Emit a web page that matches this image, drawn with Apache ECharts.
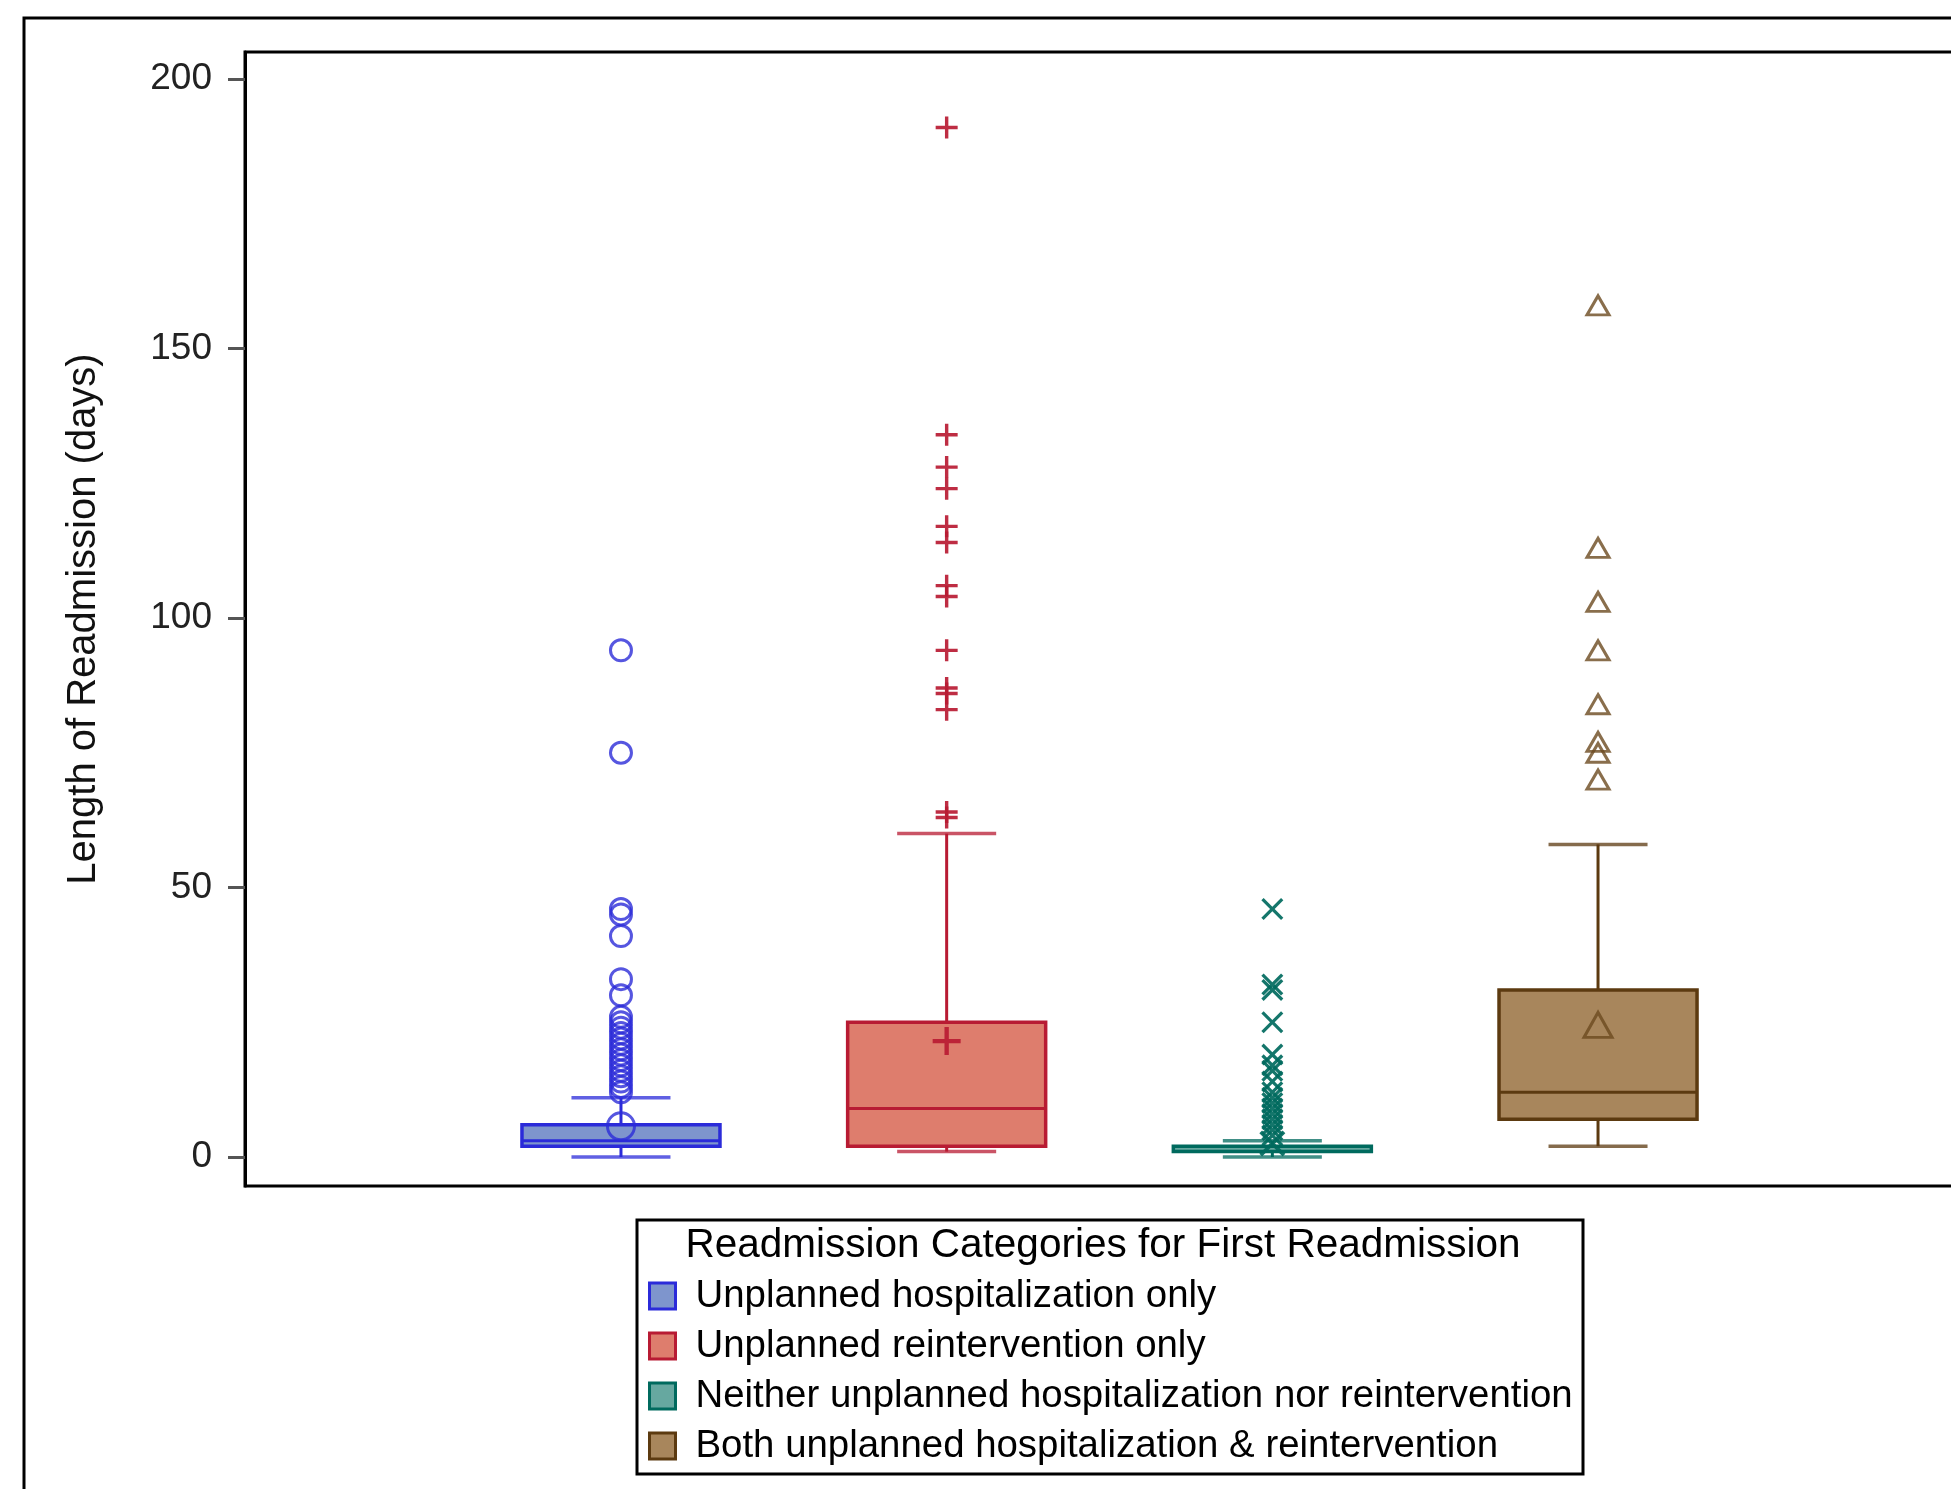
<!DOCTYPE html>
<html>
<head>
<meta charset="utf-8">
<script src="https://cdn.jsdelivr.net/npm/echarts@6/dist/echarts.min.js"></script>
<style>
  html, body { margin: 0; padding: 0; background: #fff; }
  #chart { width: 1951px; height: 1489px; }
</style>
</head>
<body>
<div id="chart"></div>
<script>
// readmission categories (legend order)
const categories = [
  'Unplanned hospitalization only',
  'Unplanned reintervention only',
  'Neither unplanned hospitalization nor reintervention',
  'Both unplanned hospitalization & reintervention'
];
const positions = [1, 2, 3, 4];

// box statistics, days
const whiskerLow = [0, 1, 0, 2];
const quartile1 = [2, 2, 1, 7];
const medians = [3, 9, 1, 12];
const quartile3 = [6, 25, 2, 31];
const whiskerHigh = [11, 60, 3, 58];
const means = [5.7, 21.5, 2.5, 24.5];

// outliers
const outliersHosp = [94, 75, 46, 45, 41, 33, 30, 26, 25, 24, 23, 22, 21, 20, 19, 18, 17, 16, 15, 14, 13, 12];
const outliersReint = [191, 134, 128, 124, 117, 114, 106, 104, 94, 87, 86, 83, 64, 63];
const outliersNeither = [46, 32, 31, 25, 19, 17, 16, 14, 12, 11, 10, 9, 8, 7, 6, 5, 4];
const outliersBoth = [158, 113, 103, 94, 84, 77, 75, 70];
const outlierLists = [outliersHosp, outliersReint, outliersNeither, outliersBoth];

const yTicks = [0, 50, 100, 150, 200];

const strokeColors = ['#2b2bd9', '#b81b33', '#006a5e', '#5c3a10'];
const fillColors = ['#7e95cd', '#de7d6d', '#66a8a0', '#a8865c'];
const markerColors = ['#2c2cd8', '#b81b33', '#006a5e', '#6b4a1f'];

const FONT = '"Liberation Sans", Arial, sans-serif';
const plusPath = 'path://M9.3,0 h3.4 v9.3 h9.3 v3.4 h-9.3 v9.3 h-3.4 v-9.3 h-9.3 v-3.4 h9.3 z';
const crossPath = 'path://M0,2.3 L2.3,0 L11,8.7 L19.7,0 L22,2.3 L13.3,11 L22,19.7 L19.7,22 L11,13.3 L2.3,22 L0,19.7 L8.7,11 Z';
const symbols = ['circle', plusPath, crossPath, 'triangle'];
const outlierSizes = [21, 22, 22, [22, 19]];
const meanSizes = [27, 28, 26, [28, 25]];
const hollow = [true, false, false, true];

const chart = echarts.init(document.getElementById('chart'));

function renderBox(i) {
  return function (params, api) {
    const x = api.value(0);
    const unit = api.size([1, 0])[0];
    const halfBox = unit * 0.304;
    const halfCap = unit * 0.152;
    const p = v => api.coord([x, v]);
    const lo = p(api.value(1)), q1 = p(api.value(2)), md = p(api.value(3));
    const q3 = p(api.value(4)), hi = p(api.value(5));
    const lineStyle = { stroke: strokeColors[i], lineWidth: 3 };
    const capStyle = { stroke: strokeColors[i], lineWidth: 3.5, opacity: 0.75 };
    return {
      type: 'group',
      children: [
        { type: 'line', shape: { x1: lo[0], y1: lo[1], x2: q1[0], y2: q1[1] }, style: lineStyle },
        { type: 'line', shape: { x1: q3[0], y1: q3[1], x2: hi[0], y2: hi[1] }, style: lineStyle },
        { type: 'line', shape: { x1: lo[0] - halfCap, y1: lo[1], x2: lo[0] + halfCap, y2: lo[1] }, style: capStyle },
        { type: 'line', shape: { x1: hi[0] - halfCap, y1: hi[1], x2: hi[0] + halfCap, y2: hi[1] }, style: capStyle },
        {
          type: 'rect',
          shape: { x: q3[0] - halfBox, y: q3[1], width: halfBox * 2, height: q1[1] - q3[1] },
          style: { fill: fillColors[i], stroke: strokeColors[i], lineWidth: 3.5 }
        },
        { type: 'line', shape: { x1: md[0] - halfBox, y1: md[1], x2: md[0] + halfBox, y2: md[1] }, style: lineStyle }
      ]
    };
  };
}

const series = [];
categories.forEach((name, i) => {
  series.push({
    name: name,
    type: 'custom',
    renderItem: renderBox(i),
    encode: { x: 0, y: [1, 2, 3, 4, 5] },
    itemStyle: { color: fillColors[i] },
    data: [[positions[i], whiskerLow[i], quartile1[i], medians[i], quartile3[i], whiskerHigh[i]]],
    z: 2
  });
});
categories.forEach((name, i) => {
  const pts = outlierLists[i].map(v => [positions[i], v]);
  pts.push({ value: [positions[i], means[i]], symbolSize: meanSizes[i] });
  series.push({
    name: name,
    type: 'scatter',
    symbol: symbols[i],
    symbolSize: outlierSizes[i],
    itemStyle: hollow[i]
      ? { color: 'rgba(0,0,0,0)', borderColor: markerColors[i], borderWidth: 3 }
      : { color: markerColors[i], opacity: 0.92 },
    data: pts,
    z: 3
  });
});

const option = {
  animation: false,
  grid: {
    left: 245, top: 52, width: 1729, height: 1134,
    show: true, borderColor: '#000', borderWidth: 3,
    outerBoundsMode: 'none'
  },
  xAxis: { type: 'value', min: -0.1544, max: 5.1544, show: false },
  yAxis: {
    type: 'value', min: -5.38, max: 205.01,
    name: 'Length of Readmission (days)',
    nameLocation: 'middle', nameGap: 141,
    nameTextStyle: { fontSize: 40, fontFamily: FONT, color: '#111' },
    axisLine: { show: true, onZero: false, lineStyle: { color: '#000', width: 3 } },
    axisTick: { show: true, inside: false, length: 17, customValues: yTicks, lineStyle: { color: '#555', width: 3 } },
    axisLabel: { customValues: yTicks, margin: 33, fontSize: 37, fontFamily: FONT, color: '#222' },
    splitLine: { show: false }
  },
  legend: {
    orient: 'vertical', left: 648, top: 1277, height: 300, padding: 0,
    itemGap: 12, itemWidth: 26, itemHeight: 26, selectedMode: false,
    textStyle: { fontSize: 38.4, fontFamily: FONT, color: '#000', padding: [0, 0, 0, 15] },
    data: categories.map((name, i) => ({
      name: name, icon: 'rect',
      itemStyle: { color: fillColors[i], borderColor: strokeColors[i], borderWidth: 3 }
    }))
  },
  graphic: [
    {
      type: 'rect', silent: true,
      shape: { x: 24, y: 18, width: 2000, height: 2000 },
      style: { fill: 'none', stroke: '#000', lineWidth: 3 }
    },
    {
      type: 'rect', silent: true,
      shape: { x: 637, y: 1220, width: 946, height: 254 },
      style: { fill: 'none', stroke: '#000', lineWidth: 3 }
    },
    {
      type: 'text', silent: true, x: 1103, y: 1246,
      style: {
        text: 'Readmission Categories for First Readmission',
        font: '40.5px ' + FONT, fill: '#000',
        textAlign: 'center', textVerticalAlign: 'middle'
      }
    }
  ],
  series: series
};

chart.setOption(option);
</script>
</body>
</html>
